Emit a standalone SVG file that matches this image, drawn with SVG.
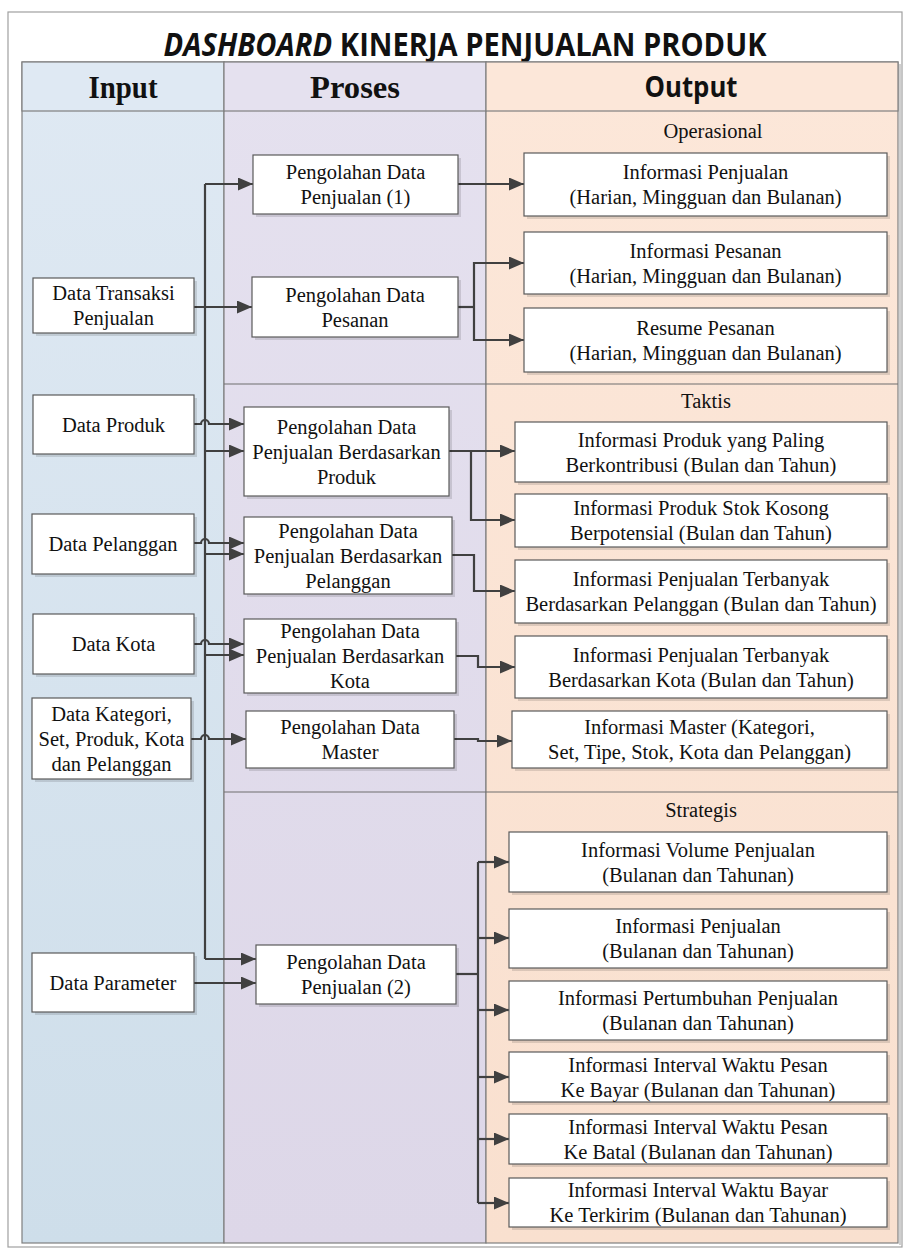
<svg xmlns="http://www.w3.org/2000/svg" width="905" height="1251" viewBox="0 0 905 1251">
<defs>
<linearGradient id="gIn" x1="0" y1="0" x2="0" y2="1"><stop offset="0" stop-color="#dfe9f3"/><stop offset="1" stop-color="#cedeea"/></linearGradient>
<linearGradient id="gPr" x1="0" y1="0" x2="0" y2="1"><stop offset="0" stop-color="#e5e1ef"/><stop offset="1" stop-color="#ddd7e8"/></linearGradient>
<linearGradient id="gOut" x1="0" y1="0" x2="0" y2="1"><stop offset="0" stop-color="#fce7d9"/><stop offset="1" stop-color="#f9e0cf"/></linearGradient>
<marker id="ar" markerUnits="userSpaceOnUse" markerWidth="15" markerHeight="13" viewBox="0 0 15 13" refX="15" refY="6.5" orient="auto"><path d="M0,0 L15,6.5 L0,13 z" fill="#404040"/></marker>
<style>
.box{fill:#fff;stroke:#5a5a5a;stroke-width:1.2}
.sh{fill:#000;opacity:.12}
.t{font-family:"Liberation Serif","Times New Roman",serif;font-size:20.5px;fill:#111;text-anchor:middle}
.c{fill:none;stroke:#404040;stroke-width:2.2}
.ca{fill:none;stroke:#404040;stroke-width:2.2;marker-end:url(#ar)}
.col{stroke:#7f7f7f;stroke-width:1.2}
.div{stroke:#6f6f6f;stroke-width:1.2}
.hd{font-family:"Liberation Serif","Times New Roman",serif;font-weight:bold;font-size:32px;fill:#111;text-anchor:middle}
</style>
</defs>
<rect x="0" y="0" width="905" height="1251" fill="#fff"/>
<rect x="8" y="12" width="894" height="1235" fill="#fff" stroke="#a0a0a0" stroke-width="1.2"/>
<g id="title">
<text x="465" y="56" font-family="'Open Sans','Liberation Sans',sans-serif" font-weight="bold" font-size="32" fill="#111" text-anchor="middle" textLength="603" lengthAdjust="spacingAndGlyphs"><tspan font-style="italic">DASHBOARD</tspan> KINERJA PENJUALAN PRODUK</text>
</g>
<g id="columns">
<rect x="22" y="62" width="202" height="1181" fill="url(#gIn)" class="col"/>
<rect x="224" y="62" width="262" height="1181" fill="url(#gPr)" class="col"/>
<rect x="486" y="62" width="412" height="1181" fill="url(#gOut)" class="col"/>
<rect x="22" y="62" width="202" height="49" fill="#dfe9f3" class="col"/>
<rect x="224" y="62" width="262" height="49" fill="#e5e1ef" class="col"/>
<rect x="486" y="62" width="412" height="49" fill="#fce7d9" class="col"/>
<line x1="224" y1="384" x2="898" y2="384" class="div"/>
<line x1="224" y1="792" x2="898" y2="792" class="div"/>
<line x1="900" y1="64" x2="900" y2="1245" stroke="#cfcfcf" stroke-width="2"/>
<text x="123" y="98" class="hd" textLength="69" lengthAdjust="spacingAndGlyphs">Input</text>
<text x="355" y="98" class="hd" textLength="90" lengthAdjust="spacingAndGlyphs">Proses</text>
<text x="691" y="97" font-family="'Open Sans','Liberation Sans',sans-serif" font-weight="bold" font-size="29" fill="#111" text-anchor="middle" textLength="93" lengthAdjust="spacingAndGlyphs">Output</text>
<text x="713" y="138" class="t">Operasional</text>
<text x="706" y="408" class="t">Taktis</text>
<text x="701" y="817" class="t">Strategis</text>
</g>
<g id="connectors">
<path class="c" d="M205,184 V959"/>
<path class="ca" d="M205,184 H253"/>
<path class="ca" d="M194,307 H252"/>
<path class="ca" d="M194,424 H201 a4,4 0 0 1 8,0 H244"/>
<path class="ca" d="M205,451 H244"/>
<path class="ca" d="M194,543 H201 a4,4 0 0 1 8,0 H244"/>
<path class="ca" d="M205,554 H244"/>
<path class="ca" d="M194,644 H201 a4,4 0 0 1 8,0 H244"/>
<path class="ca" d="M205,655 H244"/>
<path class="ca" d="M191,739 H201 a4,4 0 0 1 8,0 H246"/>
<path class="ca" d="M205,959 H256"/>
<path class="ca" d="M194,983 H256"/>
<path class="ca" d="M458,184 H524"/>
<path class="c" d="M458,307 H474"/>
<path class="ca" d="M474,307 V263 H524"/>
<path class="ca" d="M474,307 V340 H524"/>
<path class="ca" d="M449,451 H515"/>
<path class="ca" d="M471,451 V520 H515"/>
<path class="ca" d="M452,555 H474 V591 H515"/>
<path class="ca" d="M456,656 H478 V667 H515"/>
<path class="ca" d="M454,739 H478 V741 H512"/>
<path class="c" d="M456,974 H478"/>
<path class="c" d="M478,862 V1203"/>
<path class="ca" d="M478,862 H509"/>
<path class="ca" d="M478,938 H509"/>
<path class="ca" d="M478,1010 H509"/>
<path class="ca" d="M478,1077 H509"/>
<path class="ca" d="M478,1139 H509"/>
<path class="ca" d="M478,1203 H509"/>
</g>
<g id="in-transaksi"><rect class="sh" x="36" y="281" width="161" height="55"/><rect class="box" x="33" y="278" width="161" height="55"/><text class="t" x="113.5" y="300">Data Transaksi</text><text class="t" x="113.5" y="325">Penjualan</text></g>
<g id="in-produk"><rect class="sh" x="36" y="398" width="161" height="59"/><rect class="box" x="33" y="395" width="161" height="59"/><text class="t" x="113.5" y="431.5">Data Produk</text></g>
<g id="in-pelanggan"><rect class="sh" x="35" y="517" width="162" height="60"/><rect class="box" x="32" y="514" width="162" height="60"/><text class="t" x="113" y="551">Data Pelanggan</text></g>
<g id="in-kota"><rect class="sh" x="36" y="617" width="161" height="60"/><rect class="box" x="33" y="614" width="161" height="60"/><text class="t" x="113.5" y="651">Data Kota</text></g>
<g id="in-kategori"><rect class="sh" x="35" y="701" width="159" height="81"/><rect class="box" x="32" y="698" width="159" height="81"/><text class="t" x="111.5" y="720.5">Data Kategori,</text><text class="t" x="111.5" y="745.5">Set, Produk, Kota</text><text class="t" x="111.5" y="770.5">dan Pelanggan</text></g>
<g id="in-parameter"><rect class="sh" x="35" y="956" width="162" height="59"/><rect class="box" x="32" y="953" width="162" height="59"/><text class="t" x="113" y="989.5">Data Parameter</text></g>
<g id="p-penjualan1"><rect class="sh" x="256" y="158" width="205" height="59"/><rect class="box" x="253" y="155" width="205" height="59"/><text class="t" x="355.5" y="179">Pengolahan Data</text><text class="t" x="355.5" y="204">Penjualan (1)</text></g>
<g id="p-pesanan"><rect class="sh" x="255" y="280" width="206" height="60"/><rect class="box" x="252" y="277" width="206" height="60"/><text class="t" x="355" y="301.5">Pengolahan Data</text><text class="t" x="355" y="326.5">Pesanan</text></g>
<g id="p-produk"><rect class="sh" x="247" y="410" width="205" height="89"/><rect class="box" x="244" y="407" width="205" height="89"/><text class="t" x="346.5" y="433.5">Pengolahan Data</text><text class="t" x="346.5" y="458.5">Penjualan Berdasarkan</text><text class="t" x="346.5" y="483.5">Produk</text></g>
<g id="p-pelanggan"><rect class="sh" x="247" y="520" width="208" height="77"/><rect class="box" x="244" y="517" width="208" height="77"/><text class="t" x="348" y="537.5">Pengolahan Data</text><text class="t" x="348" y="562.5">Penjualan Berdasarkan</text><text class="t" x="348" y="587.5">Pelanggan</text></g>
<g id="p-kota"><rect class="sh" x="247" y="622" width="212" height="74"/><rect class="box" x="244" y="619" width="212" height="74"/><text class="t" x="350" y="638">Pengolahan Data</text><text class="t" x="350" y="663">Penjualan Berdasarkan</text><text class="t" x="350" y="688">Kota</text></g>
<g id="p-master"><rect class="sh" x="249" y="714" width="208" height="57"/><rect class="box" x="246" y="711" width="208" height="57"/><text class="t" x="350" y="734">Pengolahan Data</text><text class="t" x="350" y="759">Master</text></g>
<g id="p-penjualan2"><rect class="sh" x="259" y="948" width="200" height="59"/><rect class="box" x="256" y="945" width="200" height="59"/><text class="t" x="356" y="969">Pengolahan Data</text><text class="t" x="356" y="994">Penjualan (2)</text></g>
<g id="o-penjualan"><rect class="sh" x="527" y="156" width="363" height="63"/><rect class="box" x="524" y="153" width="363" height="63"/><text class="t" x="705.5" y="179">Informasi Penjualan</text><text class="t" x="705.5" y="204">(Harian, Mingguan dan Bulanan)</text></g>
<g id="o-pesanan"><rect class="sh" x="527" y="235" width="363" height="62"/><rect class="box" x="524" y="232" width="363" height="62"/><text class="t" x="705.5" y="257.5">Informasi Pesanan</text><text class="t" x="705.5" y="282.5">(Harian, Mingguan dan Bulanan)</text></g>
<g id="o-resume"><rect class="sh" x="527" y="311" width="363" height="64"/><rect class="box" x="524" y="308" width="363" height="64"/><text class="t" x="705.5" y="334.5">Resume Pesanan</text><text class="t" x="705.5" y="359.5">(Harian, Mingguan dan Bulanan)</text></g>
<g id="o-kontribusi"><rect class="sh" x="518" y="425" width="372" height="60"/><rect class="box" x="515" y="422" width="372" height="60"/><text class="t" x="701" y="446.5">Informasi Produk yang Paling</text><text class="t" x="701" y="471.5">Berkontribusi (Bulan dan Tahun)</text></g>
<g id="o-stok"><rect class="sh" x="518" y="497" width="372" height="53"/><rect class="box" x="515" y="494" width="372" height="53"/><text class="t" x="701" y="515">Informasi Produk Stok Kosong</text><text class="t" x="701" y="540">Berpotensial (Bulan dan Tahun)</text></g>
<g id="o-pelanggan"><rect class="sh" x="518" y="563" width="372" height="63"/><rect class="box" x="515" y="560" width="372" height="63"/><text class="t" x="701" y="586">Informasi Penjualan Terbanyak</text><text class="t" x="701" y="611">Berdasarkan Pelanggan (Bulan dan Tahun)</text></g>
<g id="o-kota"><rect class="sh" x="518" y="639" width="372" height="62"/><rect class="box" x="515" y="636" width="372" height="62"/><text class="t" x="701" y="661.5">Informasi Penjualan Terbanyak</text><text class="t" x="701" y="686.5">Berdasarkan Kota (Bulan dan Tahun)</text></g>
<g id="o-master"><rect class="sh" x="515" y="714" width="375" height="57"/><rect class="box" x="512" y="711" width="375" height="57"/><text class="t" x="699.5" y="734">Informasi Master (Kategori,</text><text class="t" x="699.5" y="759">Set, Tipe, Stok, Kota dan Pelanggan)</text></g>
<g id="o-volume"><rect class="sh" x="512" y="835" width="378" height="60"/><rect class="box" x="509" y="832" width="378" height="60"/><text class="t" x="698" y="856.5">Informasi Volume Penjualan</text><text class="t" x="698" y="881.5">(Bulanan dan Tahunan)</text></g>
<g id="o-penjualan2"><rect class="sh" x="512" y="912" width="378" height="59"/><rect class="box" x="509" y="909" width="378" height="59"/><text class="t" x="698" y="933">Informasi Penjualan</text><text class="t" x="698" y="958">(Bulanan dan Tahunan)</text></g>
<g id="o-pertumbuhan"><rect class="sh" x="512" y="984" width="378" height="59"/><rect class="box" x="509" y="981" width="378" height="59"/><text class="t" x="698" y="1005">Informasi Pertumbuhan Penjualan</text><text class="t" x="698" y="1030">(Bulanan dan Tahunan)</text></g>
<g id="o-bayar"><rect class="sh" x="512" y="1055" width="378" height="50"/><rect class="box" x="509" y="1052" width="378" height="50"/><text class="t" x="698" y="1071.5">Informasi Interval Waktu Pesan</text><text class="t" x="698" y="1096.5">Ke Bayar (Bulanan dan Tahunan)</text></g>
<g id="o-batal"><rect class="sh" x="512" y="1117" width="378" height="50"/><rect class="box" x="509" y="1114" width="378" height="50"/><text class="t" x="698" y="1133.5">Informasi Interval Waktu Pesan</text><text class="t" x="698" y="1158.5">Ke Batal (Bulanan dan Tahunan)</text></g>
<g id="o-terkirim"><rect class="sh" x="512" y="1181" width="378" height="49"/><rect class="box" x="509" y="1178" width="378" height="49"/><text class="t" x="698" y="1197">Informasi Interval Waktu Bayar</text><text class="t" x="698" y="1222">Ke Terkirim (Bulanan dan Tahunan)</text></g>
</svg>
